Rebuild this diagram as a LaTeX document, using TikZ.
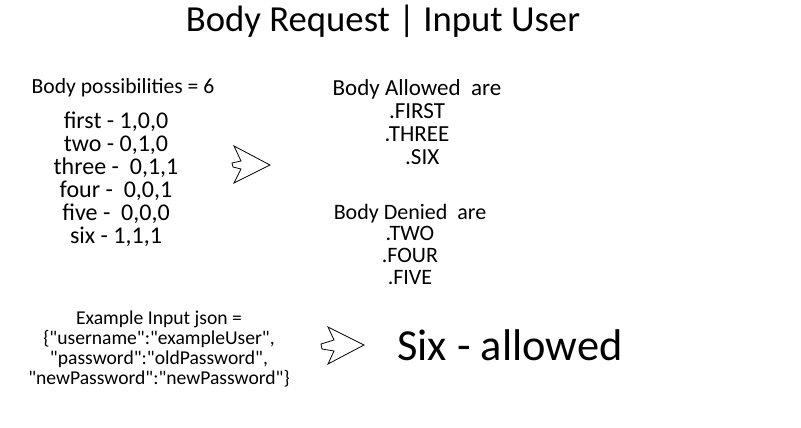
\documentclass[tikz,border=0pt]{standalone}
\usepackage{fontspec}
\setmainfont{Carlito}
\newcommand{\dq}{\textquotedbl}
\begin{document}
\begin{tikzpicture}[x=1pt,y=-1pt,
  txt/.style={inner sep=0pt,align=center},
  arrowshape/.style={draw=black,line width=0.8pt,fill=white,line join=miter}]
\useasboundingbox (0,0) rectangle (801,428);
\node[txt,font=\fontsize{36.7}{40}\selectfont] (title) at (383,21) {Body Request | Input User};
\node[txt,font=\fontsize{21.6}{24}\selectfont] (poss) at (123,88) {Body possibilities = 6};
\node[txt,font=\fontsize{24}{23}\selectfont] (list) at (116,179) {first - 1,0,0\\two - 0,1,0\\three -\ \ 0,1,1\\four -\ \ 0,0,1\\five -\ \ 0,0,0\\six - 1,1,1};
\node[txt,font=\fontsize{23}{23}\selectfont] (allowed) at (417,122.5) {Body Allowed\ \ are\\.FIRST\\.THREE\\\ \ .SIX};
\node[txt,font=\fontsize{22}{21.7}\selectfont] (denied) at (410,244) {Body Denied\ \ are\\.TWO\\.FOUR\\.FIVE};
\node[txt,font=\fontsize{19.6}{20}\selectfont] (json) at (159,349) {Example Input json =\\\{\dq username\dq:\dq exampleUser\dq,\\\dq password\dq:\dq oldPassword\dq,\\\dq newPassword\dq:\dq newPassword\dq\}};
\node[txt,font=\fontsize{44.4}{48}\selectfont] (result) at (510,345) {Six - allowed};
\draw[arrowshape] (234,146) -- (241,161) -- (232,163) -- (233,167) -- (241,169) -- (234,183) -- (270,165) -- cycle;
\draw[arrowshape] (328,327) -- (334,340) -- (321,344) -- (322,349) -- (334,351) -- (328,364) -- (364,345) -- cycle;
\end{tikzpicture}
\end{document}
